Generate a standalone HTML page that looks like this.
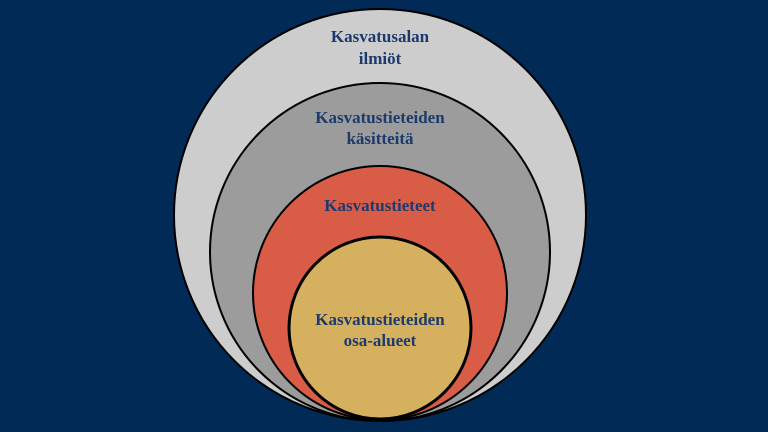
<!DOCTYPE html>
<html><head><style>
html,body{margin:0;padding:0;background:#022a56;}
svg{display:block}
text{font-family:"Liberation Serif",serif;font-weight:bold;font-size:17px;fill:#1c3a6c;text-anchor:middle}
</style></head><body>
<svg width="768" height="432" viewBox="0 0 768 432">
<rect width="768" height="432" fill="#022a56"/>
<ellipse cx="380" cy="215" rx="206" ry="206" fill="#cdcdcd" stroke="#000" stroke-width="2"/>
<ellipse cx="380" cy="252" rx="170" ry="169" fill="#9c9c9c" stroke="#000" stroke-width="2"/>
<ellipse cx="380" cy="293" rx="127" ry="127" fill="#d95c47" stroke="#000" stroke-width="2"/>
<ellipse cx="380" cy="328" rx="91" ry="91" fill="#d5b05f" stroke="#000" stroke-width="3"/>
<text x="380" y="42">Kasvatusalan</text>
<text x="380" y="64">ilmiöt</text>
<text x="380" y="123">Kasvatustieteiden</text>
<text x="380" y="144">käsitteitä</text>
<text x="380" y="211">Kasvatustieteet</text>
<text x="380" y="325">Kasvatustieteiden</text>
<text x="380" y="346">osa-alueet</text>
</svg>
</body></html>
